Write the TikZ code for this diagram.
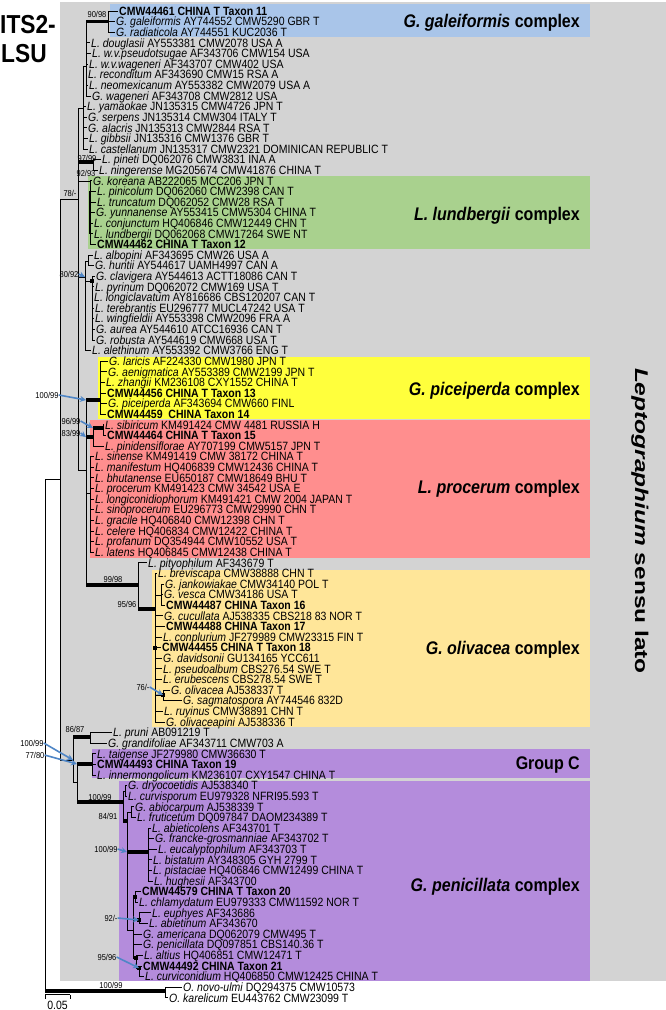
\documentclass[tikz,border=0pt]{standalone}
\usepackage{fontspec}
\setmainfont{Liberation Sans}[FakeStretch=0.875]
\newfontfamily\vfont{Liberation Sans}[FakeStretch=1.33]
\usetikzlibrary{arrows.meta}
\definecolor{greybg}{HTML}{D3D3D3}
\definecolor{cblue}{HTML}{A9C5E9}
\definecolor{cgreen}{HTML}{A9D18E}
\definecolor{cyellow}{HTML}{FFFF3C}
\definecolor{cred}{HTML}{FF8E8E}
\definecolor{corange}{HTML}{FFE699}
\definecolor{cpurple}{HTML}{B48CDC}
\definecolor{arrblue}{HTML}{4F86C6}
\newcommand\tax[4]{\node[tx] (t#1) at ({#2-1.5},{11+(#1-1)*10.61}) {\textit{#3} #4};}
\newcommand\taxb[3]{\node[txb] (t#1) at ({#2-1.5},{11+(#1-1)*10.61}) {#3};}
\tikzset{
 tx/.style={anchor=west, inner xsep=1.5pt, inner ysep=0pt, text height=8.6pt, text depth=0pt, font=\fontsize{12}{12}\selectfont},
 txb/.style={tx, font=\fontsize{12}{12}\selectfont\bfseries},
 br/.style={line width=0.75pt, black},
 thk/.style={line width=3.2pt, black},
 bs/.style={font=\fontsize{8.6}{8.6}\selectfont, inner sep=0pt},
 barr/.style={draw=arrblue, line width=1.6pt, -{Stealth[length=6pt,width=6pt]}},
 sqr/.style={fill=black, inner sep=0pt, minimum size=4pt, rectangle},
 cplx/.style={anchor=base east, inner sep=0pt, font=\fontsize{18.3}{18.3}\selectfont\bfseries},
 big/.style={anchor=base west, inner sep=0pt, font=\fontsize{26}{26}\selectfont\bfseries},
}
\begin{document}
\begin{tikzpicture}[x=1pt,y=-1pt]
\useasboundingbox (0,0) rectangle (666,1010);
% backgrounds
\fill[greybg] (60,2) rectangle (666,981);
\fill[cblue] (110,4) rectangle (590,37);
\fill[cgreen] (88,176) rectangle (590,249);
\fill[cyellow] (98,357) rectangle (590,419);
\fill[cred] (90,420) rectangle (590,558);
\fill[corange] (152,570) rectangle (590,727);
\fill[cpurple] (92,749) rectangle (590,778);
\fill[cpurple] (119,781) rectangle (590,981);

% titles
\node[big] (its) at (0,33) {ITS2-};
\node[big] (lsu) at (1,62) {LSU};
\node[rotate=-90, inner sep=0pt, font=\vfont\fontsize{18.4}{18.4}\selectfont\bfseries] (lep) at (640,521) {\textit{Leptographium} sensu lato};

% complex labels
\node[cplx] (cx1) at (580,27.6) {\textit{G. galeiformis} complex};
\node[cplx] (cx2) at (580,220.6) {\textit{L. lundbergii} complex};
\node[cplx] (cx3) at (580,395.6) {\textit{G. piceiperda} complex};
\node[cplx] (cx4) at (580,493.6) {\textit{L. procerum} complex};
\node[cplx] (cx5) at (580,654.6) {\textit{G. olivacea} complex};
\node[cplx] (cx6) at (580,769.6) {Group C};
\node[cplx] (cx7) at (580,891.6) {\textit{G. penicillata} complex};

% taxa
\taxb{1}{119}{CMW44461 CHINA T Taxon 11}
\tax{2}{116}{G. galeiformis}{AY744552 CMW5290 GBR T}
\tax{3}{116}{G. radiaticola}{AY744551 KUC2036 T}
\tax{4}{91}{L. douglasii}{AY553381 CMW2078 USA A}
\tax{5}{92}{L. w.v.pseudotsugae}{AF343706 CMW154 USA}
\tax{6}{89}{L. w.v.wageneri}{AF343707 CMW402 USA}
\tax{7}{88}{L. reconditum}{AF343690 CMW15 RSA A}
\tax{8}{89}{L. neomexicanum}{AY553382 CMW2079 USA A}
\tax{9}{92}{G. wageneri}{AF343708 CMW2812 USA}
\tax{10}{87}{L. yamaokae}{JN135315 CMW4726 JPN T}
\tax{11}{88}{G. serpens}{JN135314 CMW304 ITALY T}
\tax{12}{88}{G. alacris}{JN135313 CMW2844 RSA T}
\tax{13}{89}{L. gibbsii}{JN135316 CMW1376 GBR T}
\tax{14}{89}{L. castellanum}{JN135317 CMW2321 DOMINICAN REPUBLIC T}
\tax{15}{102}{L. pineti}{DQ062076 CMW3831 INA A}
\tax{16}{99}{L. ningerense}{MG205674 CMW41876 CHINA T}
\tax{17}{93}{G. koreana}{AB222065 MCC206 JPN T}
\tax{18}{97}{L. pinicolum}{DQ062060 CMW2398 CAN T}
\tax{19}{97}{L. truncatum}{DQ062052 CMW28 RSA T}
\tax{20}{96}{G. yunnanense}{AY553415 CMW5304 CHINA T}
\tax{21}{94}{L. conjunctum}{HQ406846 CMW12449 CHN T}
\tax{22}{94}{L. lundbergii}{DQ062068 CMW17264 SWE NT}
\taxb{23}{97}{CMW44462 CHINA T Taxon 12}
\tax{24}{94}{L. albopini}{AF343695 CMW26 USA A}
\tax{25}{95}{G. huntii}{AY544617 UAMH4997 CAN A}
\tax{26}{96}{G. clavigera}{AY544613 ACTT18086 CAN T}
\tax{27}{95}{L. pyrinum}{DQ062072 CMW169 USA T}
\tax{28}{94}{L. longiclavatum}{AY816686 CBS120207 CAN T}
\tax{29}{95}{L. terebrantis}{EU296777 MUCL47242 USA T}
\tax{30}{95}{L. wingfieldii}{AY553398 CMW2096 FRA A}
\tax{31}{96}{G. aurea}{AY544610 ATCC16936 CAN T}
\tax{32}{96}{G. robusta}{AY544619 CMW668 USA T}
\tax{33}{92}{L. alethinum}{AY553392 CMW3766 ENG T}
\tax{34}{109}{G. laricis}{AF224330 CMW1980 JPN T}
\tax{35}{108}{G. aenigmatica}{AY553389 CMW2199 JPN T}
\tax{36}{106}{L. zhangii}{KM236108 CXY1552 CHINA T}
\taxb{37}{107}{CMW44456 CHINA T Taxon 13}
\tax{38}{108}{G. piceiperda}{AF343694 CMW660 FINL}
\taxb{39}{107}{CMW44459\ \ CHINA Taxon 14}
\tax{40}{105}{L. sibiricum}{KM491424 CMW 4481 RUSSIA H}
\taxb{41}{107}{CMW44464 CHINA T Taxon 15}
\tax{42}{105}{L. pinidensiflorae}{AY707199 CMW5157 JPN T}
\tax{43}{95}{L. sinense}{KM491419 CMW 38172 CHINA T}
\tax{44}{95}{L. manifestum}{HQ406839 CMW12436 CHINA T}
\tax{45}{95}{L. bhutanense}{EU650187 CMW18649 BHU T}
\tax{46}{95}{L. procerum}{KM491423 CMW 34542 USA E}
\tax{47}{95}{L. longiconidiophorum}{KM491421 CMW 2004 JAPAN T}
\tax{48}{95}{L. sinoprocerum}{EU296773 CMW29990 CHN T}
\tax{49}{95}{L. gracile}{HQ406840 CMW12398 CHN T}
\tax{50}{95}{L. celere}{HQ406834 CMW12422 CHINA T}
\tax{51}{95}{L. profanum}{DQ354944 CMW10552 USA T}
\tax{52}{95}{L. latens}{HQ406845 CMW12438 CHINA T}
\tax{53}{148}{L. pityophilum}{AF343679 T}
\tax{54}{158}{L. breviscapa}{CMW38888 CHN T}
\tax{55}{165}{G. jankowiakae}{CMW34140 POL T}
\tax{56}{164}{G. vesca}{CMW34186 USA T}
\taxb{57}{166}{CMW44487 CHINA Taxon 16}
\tax{58}{164}{G. cucullata}{AJ538335 CBS218 83 NOR T}
\taxb{59}{166}{CMW44488 CHINA Taxon 17}
\tax{60}{163}{L. conplurium}{JF279989 CMW23315 FIN T}
\taxb{61}{162}{CMW44455 CHINA T Taxon 18}
\tax{62}{163}{G. davidsonii}{GU134165 YCC611}
\tax{63}{163}{L. pseudoalbum}{CBS276.54 SWE T}
\tax{64}{163}{L. erubescens}{CBS278.54 SWE T}
\tax{65}{171}{G. olivacea}{AJ538337 T}
\tax{66}{183}{G. sagmatospora}{AY744546 832D}
\tax{67}{164}{L. ruyinus}{CMW38891 CHN T}
\tax{68}{166}{G. olivaceapini}{AJ538336 T}
\tax{69}{113}{L. pruni}{AB091219 T}
\tax{70}{108}{G. grandifoliae}{AF343711 CMW703 A}
\tax{71}{97}{L. taigense}{JF279980 CMW36630 T}
\taxb{72}{97}{CMW44493 CHINA Taxon 19}
\tax{73}{97}{L. innermongolicum}{KM236107 CXY1547 CHINA T}
\tax{74}{128}{G. dryocoetidis}{AJ538340 T}
\tax{75}{128}{L. curvisporum}{EU979328 NFRI95.593 T}
\tax{76}{135}{G. abiocarpum}{AJ538339 T}
\tax{77}{137}{L. fruticetum}{DQ097847 DAOM234389 T}
\tax{78}{152}{L. abieticolens}{AF343701 T}
\tax{79}{155}{G. francke-grosmanniae}{AF343702 T}
\tax{80}{158}{L. eucalyptophilum}{AF343703 T}
\tax{81}{153}{L. bistatum}{AY348305 GYH 2799 T}
\tax{82}{153}{L. pistaciae}{HQ406846 CMW12499 CHINA T}
\tax{83}{154}{L. hughesii}{AF343700}
\taxb{84}{142}{CMW44579 CHINA T Taxon 20}
\tax{85}{139}{L. chlamydatum}{EU979333 CMW11592 NOR T}
\tax{86}{152}{L. euphyes}{AF343686}
\tax{87}{149}{L. abietinum}{AF343670}
\tax{88}{143}{G. americana}{DQ062079 CMW495 T}
\tax{89}{143}{G. penicillata}{DQ097851 CBS140.36 T}
\tax{90}{144}{L. altius}{HQ406851 CMW12471 T}
\taxb{91}{143}{CMW44492 CHINA Taxon 21}
\tax{92}{145}{L. curviconidium}{HQ406850 CMW12425 CHINA T}
\tax{93}{183}{O. novo-ulmi}{DQ294375 CMW10573}
\tax{94}{169}{O. karelicum}{EU443762 CMW23099 T}

% tree nodes
\coordinate (R) at (45,479);
\coordinate (ING) at (60,479);
\coordinate (OUT) at (165,991);
\coordinate (A78) at (78,199);
\coordinate (LOW) at (73,760);
\coordinate (T83) at (83,108);
\coordinate (T86) at (86,66);
\coordinate (GAL) at (108,21.6);
\coordinate (P93) at (93,162);
\coordinate (G90) at (90,181);
\coordinate (C85) at (85,277);
\coordinate (HA88) at (88,261);
\coordinate (CL92) at (92,281);
\coordinate (M86) at (86,470);
\coordinate (Y100) at (100,400);
\coordinate (R93) at (93,437);
\coordinate (SB103) at (103,428);
\coordinate (RP90) at (90,493);
\coordinate (OL138) at (138,585);
\coordinate (OL155) at (155,609);
\coordinate (J161) at (161,595);
\coordinate (OV162) at (163,695);
\coordinate (PR90) at (90,737);
\coordinate (GC77) at (77,782);
\coordinate (GCN) at (92,764);
\coordinate (PEN) at (123,802);
\coordinate (DC) at (125,791);
\coordinate (B84) at (127,821);
\coordinate (AB) at (131,812);
\coordinate (N100) at (148,852);
\coordinate (L133) at (133,930);
\coordinate (T20) at (135,897);
\coordinate (E140) at (139,920);
\coordinate (AL137) at (136,958);
\coordinate (CC141) at (139,968);

% branches
\begin{scope}[br]
\draw (R) |- (ING); \draw (R) |- (OUT);
\foreach \i in {93,94} \draw (OUT) |- (t\i.west);
\draw (ING) |- (A78); \draw (ING) |- (LOW);
\foreach \c in {T83,P93,G90,C85,M86} \draw (A78) |- (\c);
\draw (T83) |- (T86);
\foreach \i in {10,...,14} \draw (T83) |- (t\i.west);
\draw (T86) |- (GAL);
\foreach \i in {4,...,9} \draw (T86) |- (t\i.west);
\foreach \i in {1,2,3} \draw (GAL) |- (t\i.west);
\foreach \i in {15,16} \draw (P93) |- (t\i.west);
\foreach \i in {17,...,23} \draw (G90) |- (t\i.west);
\draw (C85) |- (HA88); \draw (C85) |- (CL92); \draw (C85) |- (t33.west);
\foreach \i in {24,25} \draw (HA88) |- (t\i.west);
\foreach \i in {26,...,32} \draw (CL92) |- (t\i.west);
\foreach \c in {Y100,R93,RP90,OL138} \draw (M86) |- (\c);
\foreach \i in {34,...,39} \draw (Y100) |- (t\i.west);
\draw (R93) |- (SB103); \draw (R93) |- (t42.west);
\foreach \i in {40,41} \draw (SB103) |- (t\i.west);
\foreach \i in {43,...,52} \draw (RP90) |- (t\i.west);
\draw (OL138) |- (t53.west); \draw (OL138) |- (OL155);
\draw (OL155) |- (J161); \draw (OL155) |- (OV162);
\foreach \i in {54,58,59,60,61,62,63,64,67,68} \draw (OL155) |- (t\i.west);
\foreach \i in {55,56,57} \draw (J161) |- (t\i.west);
\foreach \i in {65,66} \draw (OV162) |- (t\i.west);
\draw (LOW) |- (PR90); \draw (LOW) |- (GC77);
\foreach \i in {69,70} \draw (PR90) |- (t\i.west);
\draw (GC77) |- (GCN); \draw (GC77) |- (PEN);
\foreach \i in {71,72,73} \draw (GCN) |- (t\i.west);
\draw (PEN) |- (DC); \draw (PEN) |- (B84);
\foreach \i in {74,75} \draw (DC) |- (t\i.west);
\draw (B84) |- (AB); \draw (B84) |- (N100); \draw (B84) |- (L133);
\foreach \i in {76,77} \draw (AB) |- (t\i.west);
\foreach \i in {78,...,83} \draw (N100) |- (t\i.west);
\draw (L133) |- (T20); \draw (L133) |- (E140); \draw (L133) |- (AL137);
\foreach \i in {88,89} \draw (L133) |- (t\i.west);
\foreach \i in {84,85} \draw (T20) |- (t\i.west);
\foreach \i in {86,87} \draw (E140) |- (t\i.west);
\draw (AL137) |- (t90.west); \draw (AL137) |- (CC141);
\foreach \i in {91,92} \draw (CC141) |- (t\i.west);
\end{scope}
% thick branches
\draw[thk] (R |- OUT) -- (OUT);
\draw[thk] (T86 |- GAL) -- (GAL);
\draw[thk] (A78 |- P93) -- (P93);
\draw[thk] (M86 |- Y100) -- (Y100);
\draw[thk] (M86 |- R93) -- (R93);
\draw[thk] (R93 |- SB103) -- (SB103);
\draw[thk] (M86 |- OL138) -- (OL138);
\draw[thk] (OL138 |- OL155) -- (OL155);
\draw[thk] (LOW |- PR90) -- (PR90);
\draw[thk] (GC77 |- GCN) -- (GCN);
\draw[thk] (GC77 |- PEN) -- (PEN);
\draw[thk] (PEN |- B84) -- (B84);
\draw[thk] (B84 |- N100) -- (N100);
\draw[line width=1.4pt] (G90 |- t18.west) -- (G90 |- t22.west);
% node squares
\node[sqr] (q1) at (CL92) {};
\node[sqr] (q2) at (OL155 |- t61.west) {};
\node[sqr] (q3) at (OV162) {};
\node[sqr] (q4) at (T20) {};
\node[sqr] (q5) at (E140) {};
\node[sqr] (q6) at (AL137) {};
\node[sqr] (q7) at (CC141) {};

% support values
\node[bs] (b1) at (97,14) {90/98};
\node[bs] (b2) at (87,158) {97/99};
\node[bs] (b3) at (86,173) {92/93};
\node[bs] (b4) at (70,193) {78/-};
\node[bs] (b5) at (69,274) {80/92};
\node[bs] (b6) at (47,395) {100/99};
\node[bs] (b7) at (71,421) {96/99};
\node[bs] (b8) at (71,433) {83/99};
\node[bs] (b9) at (113,579) {99/98};
\node[bs] (b10) at (127,604) {95/96};
\node[bs] (b11) at (143,687) {76/-};
\node[bs] (b12) at (75,729) {86/87};
\node[bs] (b13) at (32,743) {100/99};
\node[bs] (b14) at (35,755) {77/80};
\node[bs] (b15) at (100,797) {100/99};
\node[bs] (b16) at (108,816) {84/91};
\node[bs] (b17) at (106,849) {100/99};
\node[bs] (b18) at (111,918) {92/-};
\node[bs] (b19) at (107,957) {95/96};
\node[bs] (b20) at (111,985) {100/99};
% blue arrows
\draw[barr] (b5.east) -- (C85);
\draw[barr] (b6.east) -- (M86 |- Y100);
\draw[barr] (b7.east) -- (R93 |- SB103);
\draw[barr] (b8.east) -- (M86 |- R93);
\draw[barr] (b11.east) -- (OV162);
\draw[barr] (b13.east) -- (LOW);
\draw[barr] (b14.east) -- (GC77 |- GCN);
\draw[barr] (b17.east) -- (B84 |- N100);
\draw[barr] (b18.east) -- (E140);
\draw[barr] (b19.east) -- (CC141);

% scale bar
\coordinate (sb1) at (45,994.5);
\coordinate (sb2) at (70,994.5);
\draw[br] (sb1) -- (sb2);
\draw[br] (sb1) -- ++(0,4);
\draw[br] (sb2) -- ++(0,4);
\node[inner sep=0pt, font=\fontsize{12}{12}\selectfont] (sbl) at (57.5,1005) {0.05};
\end{tikzpicture}
\end{document}
